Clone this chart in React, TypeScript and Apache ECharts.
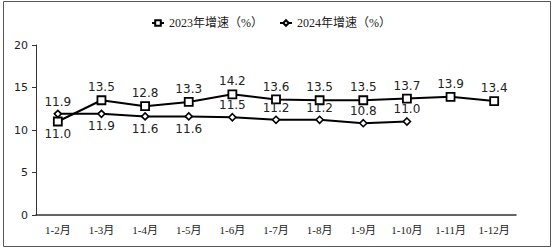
import React, { useEffect, useRef } from "react";
import * as echarts from "echarts";

const categories = ["1-2月", "1-3月", "1-4月", "1-5月", "1-6月", "1-7月", "1-8月", "1-9月", "1-10月", "1-11月", "1-12月"];
const growth2023 = [11.0, 13.5, 12.8, 13.3, 14.2, 13.6, 13.5, 13.5, 13.7, 13.9, 13.4];
const growth2024 = [11.9, 11.9, 11.6, 11.6, 11.5, 11.2, 11.2, 10.8, 11.0];
const labelPos2023 = ["bottom", "top", "top", "top", "top", "top", "top", "top", "top", "top", "top"];
const labelPos2024 = ["top", "bottom", "bottom", "bottom", "top", "top", "top", "top", "top"];
const seriesNames = ["2023年增速（%）", "2024年增速（%）"];

export default function App() {
  const ref = useRef<HTMLDivElement>(null);
  useEffect(() => {
    const chart = echarts.init(ref.current!, undefined, { renderer: "svg" });
    const labelFont = { fontFamily: "DejaVu Sans, Verdana, sans-serif", fontSize: 12, color: "#222" };
    const serif = "'Liberation Serif', 'Noto Sans CJK SC', serif";
    chart.setOption({
      animation: false,
      backgroundColor: "#fff",
      legend: {
        top: 12,
        left: 146,
        itemWidth: 12,
        itemHeight: 7,
        itemGap: 16,
        textStyle: { fontFamily: serif, fontSize: 12, color: "#222" },
        data: seriesNames,
      },
      graphic: [
        {
          type: "rect",
          shape: { x: 3.5, y: 1.5, width: 547, height: 245 },
          style: { fill: "none", stroke: "#555", lineWidth: 1 },
          silent: true,
        },
      ],
      grid: { left: 36, right: 39, top: 45, bottom: 34 },
      xAxis: {
        type: "category",
        data: categories,
        boundaryGap: true,
        axisLine: { lineStyle: { color: "#333", width: 1.5 } },
        axisTick: { show: false },
        axisLabel: { fontFamily: serif, fontSize: 11, color: "#222", margin: 9, interval: 0 },
      },
      yAxis: {
        type: "value",
        min: 0,
        max: 20,
        interval: 5,
        splitLine: { show: false },
        axisLine: { show: true, lineStyle: { color: "#333", width: 1 } },
        axisTick: { show: true, length: 4, lineStyle: { color: "#333" } },
        axisLabel: { fontFamily: "DejaVu Sans, Verdana, sans-serif", fontSize: 11, color: "#222", margin: 8 },
      },
      series: [
        {
          name: seriesNames[0],
          type: "line",
          data: growth2023.map((v, i) => ({
            value: v,
            label: { show: true, position: labelPos2023[i], distance: 2, formatter: (p: any) => p.value.toFixed(1), ...labelFont },
          })),
          symbol: "rect",
          symbolSize: 8,
          lineStyle: { color: "#000", width: 2 },
          itemStyle: { color: "#fff", borderColor: "#000", borderWidth: 1.8 },
        },
        {
          name: seriesNames[1],
          type: "line",
          data: growth2024.map((v, i) => ({
            value: v,
            label: { show: true, position: labelPos2024[i], distance: 2, formatter: (p: any) => p.value.toFixed(1), ...labelFont },
          })),
          symbol: "diamond",
          symbolSize: 7,
          lineStyle: { color: "#000", width: 2 },
          itemStyle: { color: "#fff", borderColor: "#000", borderWidth: 1.6 },
        },
      ],
    });
    return () => chart.dispose();
  }, []);
  return <div ref={ref} style={{ position: "fixed", left: 0, top: 0, width: 555, height: 249 }} />;
}
